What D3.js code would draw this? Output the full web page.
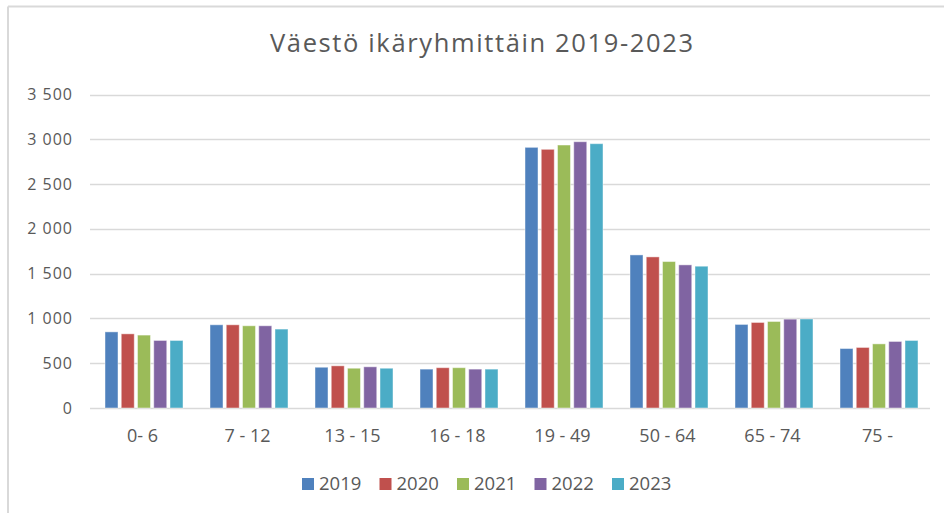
<!DOCTYPE html>
<html>
<head>
<meta charset="utf-8">
<script src="https://cdn.jsdelivr.net/npm/d3@7"></script>
<style>
  html, body { margin: 0; padding: 0; background: #fff; }
  svg { display: block; }
  text { font-family: "Open Sans", "Noto Sans", sans-serif; fill: #595959; }
</style>
</head>
<body>
<svg id="chart" width="944" height="513"></svg>
<script>
const title = "Väestö ikäryhmittäin 2019-2023";
const categories = ["0- 6", "7 - 12", "13 - 15", "16 - 18", "19 - 49", "50 - 64", "65 - 74", "75 -"];
const years = ["2019", "2020", "2021", "2022", "2023"];
const v2019 = [850, 929, 455, 434, 2910, 1709, 933, 664];
const v2020 = [828, 929, 471, 450, 2888, 1687, 955, 676];
const v2021 = [814, 918, 444, 450, 2936, 1635, 966, 716];
const v2022 = [754, 918, 460, 434, 2973, 1598, 992, 743];
const v2023 = [754, 881, 444, 434, 2951, 1583, 994, 754];
const yTicks = [0, 500, 1000, 1500, 2000, 2500, 3000, 3500];
const colors = ["#4F81BD", "#C0504D", "#9BBB59", "#8064A2", "#4BACC6"];

const seriesValues = [v2019, v2020, v2021, v2022, v2023];

const svg = d3.select("#chart");

// chart frame (top and left visible)
svg.append("path")
  .attr("d", "M8,6.5 H944 M8,6.5 V513")
  .attr("fill", "none")
  .attr("stroke", "#d9d9d9")
  .attr("stroke-width", 2);

const x0 = d3.scaleBand().domain(categories).range([90, 930]).padding(0);
const x1 = d3.scaleBand().domain(years).range([15, 93]).paddingInner(0.2).paddingOuter(0);
const y = d3.scaleLinear().domain([0, 3500]).range([408, 94.5]);

const fi = d3.formatLocale({decimal: ",", thousands: "\u00a0", grouping: [3], currency: ["", " €"]});
const fmt = fi.format(",d");

// gridlines
const grid = svg.append("g");
grid.selectAll("line").data(yTicks).join("line")
  .attr("x1", 90).attr("x2", 930)
  .attr("y1", d => Math.round(y(d)) + 0.5)
  .attr("y2", d => Math.round(y(d)) + 0.5)
  .attr("stroke", "#d9d9d9")
  .attr("stroke-width", 1.5);

// y axis labels
const yAxis = svg.append("g").attr("transform", "translate(73,0)")
  .call(d3.axisLeft(y).tickValues(yTicks).tickFormat(fmt).tickSize(0).tickPadding(0));
yAxis.select(".domain").remove();
yAxis.selectAll("text")
  .style("font-size", "16px")
  .style("letter-spacing", "1px")
  .attr("fill", "#595959");

// bars
const groups = svg.append("g").selectAll("g").data(categories).join("g")
  .attr("transform", d => `translate(${x0(d)},0)`);
groups.selectAll("rect")
  .data((c, i) => years.map((yr, j) => ({year: yr, value: seriesValues[j][i], color: colors[j]})))
  .join("rect")
  .attr("x", d => x1(d.year))
  .attr("width", x1.bandwidth())
  .attr("y", d => y(d.value))
  .attr("height", d => y(0) - y(d.value))
  .attr("fill", d => d.color)
  .attr("stroke", "#ffffff")
  .attr("stroke-opacity", 0.45)
  .attr("stroke-width", 1);

// x axis labels
const xAxis = svg.append("g").attr("transform", "translate(0,429)")
  .call(d3.axisBottom(x0).tickSize(0).tickPadding(0));
xAxis.select(".domain").remove();
xAxis.selectAll("text")
  .attr("dy", "0.71em")
  .style("font-size", "18px")
  .attr("fill", "#595959");

// title
svg.append("text")
  .attr("x", 481.5)
  .attr("y", 52)
  .attr("text-anchor", "middle")
  .attr("textLength", 423)
  .attr("lengthAdjust", "spacing")
  .style("font-size", "25.5px")
  .text(title);

// legend
const legend = svg.append("g");
const lx = d3.scalePoint().domain(years).range([302, 612]);
const li = legend.selectAll("g").data(years).join("g")
  .attr("transform", d => `translate(${lx(d)},478)`);
li.append("rect").attr("width", 12).attr("height", 12)
  .attr("fill", (d, i) => colors[i]);
li.append("text").attr("x", 17).attr("y", 11.5)
  .style("font-size", "18.5px")
  .text(d => d);
</script>
</body>
</html>
